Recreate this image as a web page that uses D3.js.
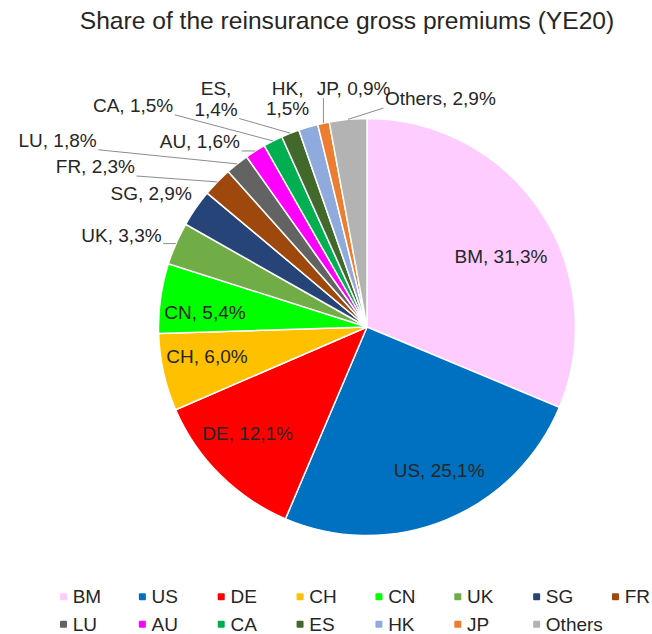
<!DOCTYPE html>
<html><head><meta charset="utf-8">
<script src="https://cdn.jsdelivr.net/npm/d3@7"></script>
<style>body{margin:0;background:#fff}</style>
</head><body>
<svg id="chart" width="652" height="634"></svg>
<script>
const title = "Share of the reinsurance gross premiums (YE20)";
const categories = ["BM","US","DE","CH","CN","UK","SG","FR","LU","AU","CA","ES","HK","JP","Others"];
const shares = [31.3,25.1,12.1,6.0,5.4,3.3,2.9,2.3,1.8,1.6,1.5,1.4,1.5,0.9,2.9];
const valueLabels = ["31,3%","25,1%","12,1%","6,0%","5,4%","3,3%","2,9%","2,3%","1,8%","1,6%","1,5%","1,4%","1,5%","0,9%","2,9%"];
const colors = ["#FFCCFF","#0070C0","#FF0000","#FFC000","#00FF00","#70AD47","#264478","#9E480E","#636363","#FF00FF","#00B050","#43682B","#8FAADC","#ED7D31","#B3B3B3"];

// label placement (annotation layout, relative to computed slice geometry)
const labelLayout = {
  BM:{inside:true, dx:2.5, dy:16.6},
  US:{inside:true, dx:12.6, dy:-3.4},
  DE:{inside:true, dx:-8.1, dy:-6.1},
  CH:{inside:true, dx:-5.8, dy:-5.4},
  CN:{inside:true, dx:-5.5, dy:6.7},
  UK:{anchor:"end", dx:-14.3, dy:-1.9},
  SG:{anchor:"end", dx:-3.9, dy:-8.4},
  FR:{anchor:"end", dx:-82.3, dy:-8.9},
  LU:{anchor:"end", dx:-140.5, dy:-17.1},
  AU:{anchor:"end", dx:-15.3, dy:-2.7},
  CA:{anchor:"end", dx:-99.7, dy:-29.1},
  ES:{anchor:"middle", dx:-74.2, dy:-38.1, wrap:true},
  HK:{anchor:"middle", dx:-20.6, dy:-32.1, wrap:true},
  JP:{anchor:"start", dx:-6.6, dy:-28.1},
  Others:{anchor:"start", dx:36.9, dy:-14.3}
};

const data = categories.map((c,i)=>({cat:c, value:shares[i], label:valueLabels[i], color:colors[i]}));

const W = 652, H = 634;
const cx = 367, cy = 327, R = 208.5, labelR = 158;
const font = "'Liberation Sans', Arial, sans-serif";
const textColor = "#262626";

const svg = d3.select("#chart");

svg.append("text")
  .attr("x", 347).attr("y", 29)
  .attr("text-anchor","middle")
  .attr("font-family", font).attr("font-size", 24.6)
  .attr("fill", textColor)
  .text(title);

const pie = d3.pie().sort(null).value(d=>d.value);
const arcs = pie(data);
const arc = d3.arc().innerRadius(0).outerRadius(R);

const g = svg.append("g").attr("transform", `translate(${cx},${cy})`);

g.selectAll("path.slice").data(arcs).join("path")
  .attr("class","slice")
  .attr("d", arc)
  .attr("fill", d=>d.data.color)
  .attr("stroke", "#fff")
  .attr("stroke-width", 1.5)
  .attr("stroke-linejoin","round");

const leaderG = g.append("g");
const labelG = g.append("g");

arcs.forEach(a=>{
  const L = labelLayout[a.data.cat];
  const mid = (a.startAngle + a.endAngle)/2;
  const txt = a.data.cat + ", " + a.data.label;
  if (L.inside) {
    const px = Math.sin(mid)*labelR + L.dx;
    const py = -Math.cos(mid)*labelR + L.dy;
    labelG.append("text")
      .attr("x", px).attr("y", py + 6.7)
      .attr("text-anchor","middle")
      .attr("font-family", font).attr("font-size", 19)
      .attr("fill", textColor)
      .text(txt);
    return;
  }
  const ex = Math.sin(mid)*R, ey = -Math.cos(mid)*R;
  const t = labelG.append("text")
    .attr("x", ex + L.dx).attr("y", ey + L.dy)
    .attr("text-anchor", L.anchor)
    .attr("font-family", font).attr("font-size", 19)
    .attr("fill", textColor);
  if (L.wrap) {
    t.append("tspan").attr("x", ex + L.dx).text(a.data.cat + ",");
    t.append("tspan").attr("x", ex + L.dx).attr("dy", 20.5).text(a.data.label);
  } else {
    t.text(txt);
  }
  const bb = t.node().getBBox();
  const pad = 1.5;
  const x0 = bb.x - pad, x1 = bb.x + bb.width + pad;
  const y0 = bb.y + 2, y1 = bb.y + bb.height - 1;
  const nx = Math.max(x0, Math.min(ex, x1));
  const ny = Math.max(y0, Math.min(ey, y1));
  if (Math.hypot(ex-nx, ey-ny) > 9) {
    leaderG.append("line")
      .attr("x1", nx).attr("y1", ny).attr("x2", ex).attr("y2", ey)
      .attr("stroke", "#8C8C8C").attr("stroke-width", 1);
  }
});

// legend
const perRow = 8;
const legX = d3.scaleLinear().domain([0, perRow-1]).range([60, 612]);
const legY = d3.scaleLinear().domain([0, 1]).range([593.3, 620.7]);
const leg = svg.append("g");
data.forEach((d,i)=>{
  const col = i % perRow, row = Math.floor(i / perRow);
  const x = legX(col), y = legY(row);
  leg.append("rect").attr("x", x).attr("y", y).attr("width", 7).attr("height", 7)
    .attr("rx", 1).attr("fill", d.color);
  leg.append("text").attr("x", x + 12.7).attr("y", y + 10)
    .attr("font-family", font).attr("font-size", 19)
    .attr("fill", textColor).text(d.cat);
});
</script>
</body></html>
